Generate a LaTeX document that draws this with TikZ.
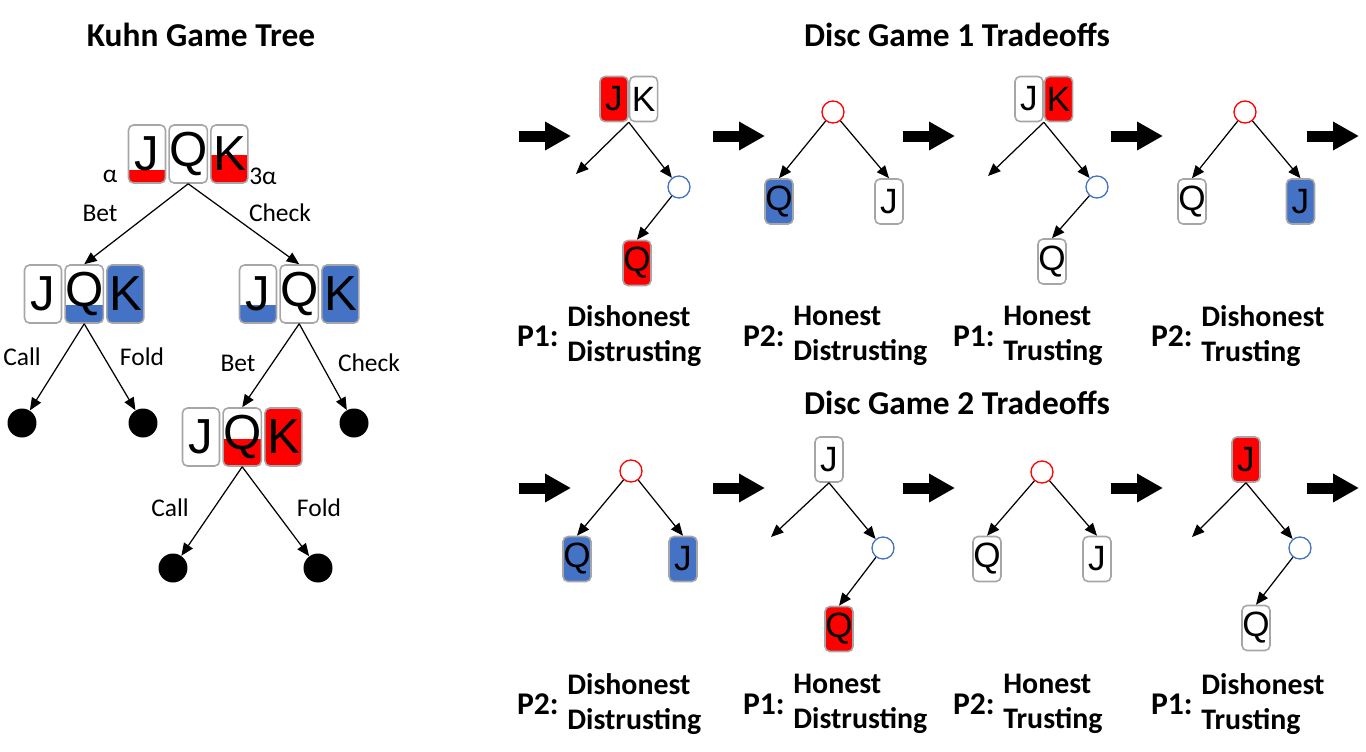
\documentclass[tikz,border=0pt]{standalone}
\usepackage{fontspec}
\setmainfont{Carlito}
\newfontfamily\cardfont{Liberation Sans}
\usetikzlibrary{positioning, arrows.meta}

\definecolor{cardred}{HTML}{FF0000}
\definecolor{cardblue}{HTML}{4472C4}
\definecolor{cardedge}{HTML}{A6A6A6}

\begin{document}
\begin{tikzpicture}[
    x=0.02cm, y=-0.02cm,
    >={Triangle[length=0.25cm,width=0.21cm]},
    % Styles for cards and tree nodes
    bigcard/.style={draw=cardedge, fill=white, line width=0.9pt, rounded corners=0.1cm, minimum width=0.74cm, minimum height=1.16cm, inner sep=0pt, font=\cardfont\fontsize{28}{28}\selectfont},
    card/.style={draw=cardedge, fill=white, line width=0.9pt, rounded corners=0.1cm, minimum width=0.56cm, minimum height=0.9cm, inner sep=0pt, font=\cardfont\fontsize{20}{20}\selectfont},
    part/.style 2 args={path picture={\fill[#1, sharp corners] (path picture bounding box.south west) rectangle ([yshift=#2]path picture bounding box.south east);}},
    leaf/.style={circle, fill=black, minimum size=0.58cm, inner sep=0pt},
    chance/.style={circle, draw=#1, line width=0.75pt, minimum size=0.44cm, inner sep=0pt},
    edge/.style={->, line width=0.7pt},
    % Styles for texts
    act/.style={inner sep=0pt, font=\fontsize{14.5}{17}\selectfont},
    title/.style={inner sep=0pt, anchor=base, font=\bfseries\fontsize{19}{23}\selectfont},
    who/.style={inner sep=0pt, font=\bfseries\fontsize{18}{22}\selectfont},
    trait/.style={inner sep=0pt, anchor=west, align=left, font=\bfseries\fontsize{17}{19.6}\selectfont},
    bigarrow/.style={line width=0.22cm, -{Triangle[length=0.52cm,width=0.54cm]}}
]
    \useasboundingbox (0,0) rectangle (1366,751);

    % Titles
    \node[title] (kuhn) at (201,46) {Kuhn Game Tree};
    \node[title] (disc1) at (957,46) {Disc Game 1 Tradeoffs};
    \node[title] (disc2) at (957,414) {Disc Game 2 Tradeoffs};

    % Kuhn game tree
    \node[bigcard, part={cardred}{0.26cm}] (rootJ) at (147,154) {J};
    \node[bigcard, right=0.04cm of rootJ] (rootQ) {Q};
    \node[bigcard, part={cardred}{0.56cm}, right=0.04cm of rootQ] (rootK) {K};
    \node[act] (alpha) at (110,176) {α};
    \node[act] (alpha3) at (263,176) {3α};

    \node[bigcard] (betJ) at (43,294) {J};
    \node[bigcard, part={cardblue}{0.36cm}, right=0.04cm of betJ] (betQ) {Q};
    \node[bigcard, fill=cardblue, right=0.04cm of betQ] (betK) {K};

    \node[bigcard, part={cardblue}{0.36cm}] (chkJ) at (258,294) {J};
    \node[bigcard, right=0.04cm of chkJ] (chkQ) {Q};
    \node[bigcard, fill=cardblue, right=0.04cm of chkQ] (chkK) {K};

    \node[bigcard] (cbJ) at (201,437) {J};
    \node[bigcard, part={cardred}{0.54cm}, right=0.04cm of cbJ] (cbQ) {Q};
    \node[bigcard, fill=cardred, right=0.04cm of cbQ] (cbK) {K};

    \node[leaf] (leafA) at (22,423) {};
    \node[leaf] (leafB) at (143,423) {};
    \node[leaf] (leafC) at (354,423) {};
    \node[leaf] (leafD) at (173,568) {};
    \node[leaf] (leafE) at (318,568) {};

    \draw[edge] (rootQ.south) -- (betQ.north);
    \draw[edge] (rootQ.south) -- (chkQ.north);
    \draw[edge] (betQ.south) -- (leafA);
    \draw[edge] (betQ.south) -- (leafB);
    \draw[edge] (chkQ.south) -- (cbQ.north);
    \draw[edge] (chkQ.south) -- (leafC);
    \draw[edge] (cbQ.south) -- (leafD);
    \draw[edge] (cbQ.south) -- (leafE);

    \node[act] (lbBet) at (100,213) {Bet};
    \node[act] (lbCheck) at (280,213) {Check};
    \node[act] (lbCallA) at (22,357) {Call};
    \node[act] (lbFoldA) at (142,357) {Fold};
    \node[act] (lbBetB) at (238,363) {Bet};
    \node[act] (lbCheckB) at (369,363) {Check};
    \node[act] (lbCallC) at (170,508) {Call};
    \node[act] (lbFoldC) at (319,508) {Fold};

    % Block arrows between the panels
    \foreach \x in {519,713,903,1111,1307} {
        \draw[bigarrow] (\x,136) -- ++(52,0);
        \draw[bigarrow] (\x,488) -- ++(52,0);
    }

    % Disc game 1
    \node[card, fill=cardred] (a1J) at (614,99) {J};
    \node[card, right=0pt of a1J] (a1K) {K};
    \coordinate (a1r) at (a1J.south east);
    \coordinate (a1l) at (576,174);
    \node[chance=cardblue] (a1c) at (679,187) {};
    \node[card, fill=cardred] (a1Q) at (637,263) {Q};
    \draw[edge] (a1r) -- (a1l);
    \draw[edge] (a1r) -- (a1c);
    \draw[edge] (a1c) -- (a1Q.north);

    \node[chance=cardred] (a2c) at (833,112) {};
    \node[card, fill=cardblue] (a2Q) at (779,201.5) {Q};
    \node[card] (a2J) at (889,201.5) {J};
    \draw[edge] (a2c) -- (a2Q.north);
    \draw[edge] (a2c) -- (a2J.north);

    \node[card] (a3J) at (1029,99) {J};
    \node[card, fill=cardred, right=0pt of a3J] (a3K) {K};
    \coordinate (a3r) at (a3J.south east);
    \coordinate (a3l) at (988,176);
    \node[chance=cardblue] (a3c) at (1097,187) {};
    \node[card] (a3Q) at (1052,261.5) {Q};
    \draw[edge] (a3r) -- (a3l);
    \draw[edge] (a3r) -- (a3c);
    \draw[edge] (a3c) -- (a3Q.north);

    \node[chance=cardred] (a4c) at (1245,112) {};
    \node[card] (a4Q) at (1192,201.5) {Q};
    \node[card, fill=cardblue] (a4J) at (1300.5,201.5) {J};
    \draw[edge] (a4c) -- (a4Q.north);
    \draw[edge] (a4c) -- (a4J.north);

    \node[trait] (t1) at (567,336) {Dishonest\\Distrusting};
    \node[who, left=0.16cm of t1] (p1) {P1:};
    \node[trait] (t2) at (793,336) {Honest\\Distrusting};
    \node[who, left=0.16cm of t2] (p2) {P2:};
    \node[trait] (t3) at (1003,336) {Honest\\Trusting};
    \node[who, left=0.16cm of t3] (p3) {P1:};
    \node[trait] (t4) at (1201,336) {Dishonest\\Trusting};
    \node[who, left=0.16cm of t4] (p4) {P2:};

    % Disc game 2
    \node[chance=cardred] (b1c) at (631,471) {};
    \node[card, fill=cardblue] (b1Q) at (577,559) {Q};
    \node[card, fill=cardblue] (b1J) at (683,559) {J};
    \draw[edge] (b1c) -- (b1Q.north);
    \draw[edge] (b1c) -- (b1J.north);

    \node[card] (b2J) at (829,459.5) {J};
    \coordinate (b2l) at (771,537);
    \node[chance=cardblue] (b2c) at (883,548) {};
    \node[card, fill=cardred] (b2Q) at (839,629) {Q};
    \draw[edge] (b2J.south) -- (b2l);
    \draw[edge] (b2J.south) -- (b2c);
    \draw[edge] (b2c) -- (b2Q.north);

    \node[chance=cardred] (b3c) at (1042,472) {};
    \node[card] (b3Q) at (987,559) {Q};
    \node[card] (b3J) at (1097,559) {J};
    \draw[edge] (b3c) -- (b3Q.north);
    \draw[edge] (b3c) -- (b3J.north);

    \node[card, fill=cardred] (b4J) at (1246,459.5) {J};
    \coordinate (b4l) at (1192,537);
    \node[chance=cardblue] (b4c) at (1300,548) {};
    \node[card] (b4Q) at (1256,628) {Q};
    \draw[edge] (b4J.south) -- (b4l);
    \draw[edge] (b4J.south) -- (b4c);
    \draw[edge] (b4c) -- (b4Q.north);

    \node[trait] (u1) at (567,704) {Dishonest\\Distrusting};
    \node[who, left=0.16cm of u1] (q1) {P2:};
    \node[trait] (u2) at (793,704) {Honest\\Distrusting};
    \node[who, left=0.16cm of u2] (q2) {P1:};
    \node[trait] (u3) at (1003,704) {Honest\\Trusting};
    \node[who, left=0.16cm of u3] (q3) {P2:};
    \node[trait] (u4) at (1201,704) {Dishonest\\Trusting};
    \node[who, left=0.16cm of u4] (q4) {P1:};

\end{tikzpicture}
\end{document}
